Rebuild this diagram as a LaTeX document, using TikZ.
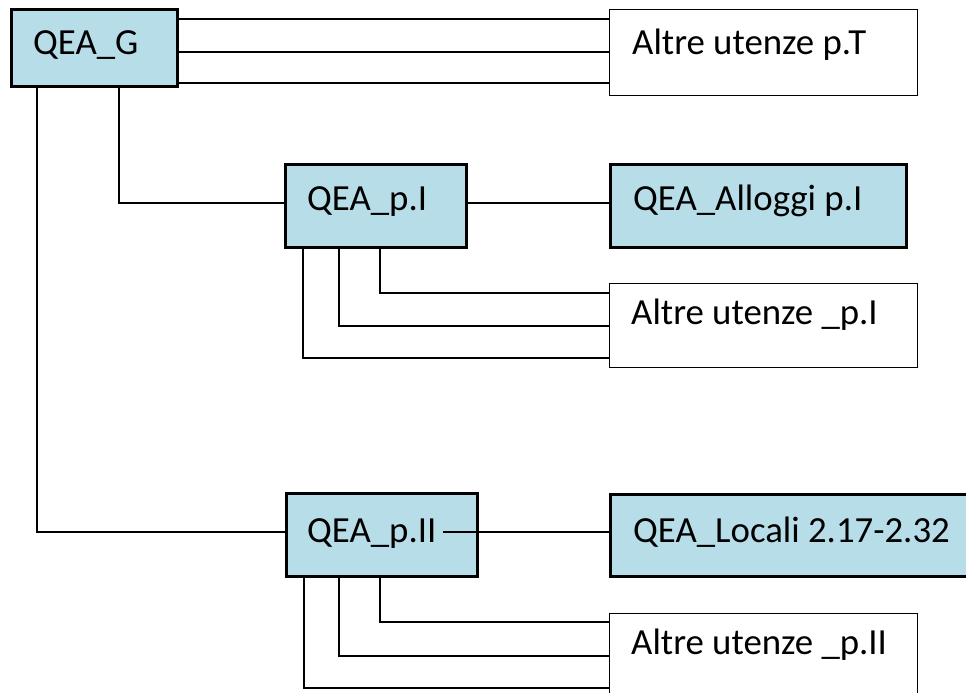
\documentclass[tikz,border=0pt]{standalone}
\usepackage{fontspec}
\setmainfont{Carlito}
\definecolor{qeablue}{HTML}{B7DDE8}

\begin{document}
\begin{tikzpicture}[x=1bp,y=-1bp,
    qea/.style={draw,rectangle,line width=3bp,fill=qeablue,anchor=north west,inner sep=0pt,outer sep=0pt},
    utenze/.style={draw,rectangle,line width=1.3bp,fill=white,anchor=north west,inner sep=0pt,outer sep=0pt},
    testo/.style={anchor=base west,inner sep=0pt,font=\fontsize{36.8bp}{44bp}\selectfont},
    filo/.style={line width=1.5bp}]

  \useasboundingbox (0,0) rectangle (966,693);
  \clip (0,0) rectangle (966,693);

  %%%%%%%%%% QUADRO GENERALE %%%%%%%%%%
  \node[qea,minimum width=166bp,minimum height=77bp] (g) at (11.5,9.5) {};
  \node[utenze,minimum width=308bp,minimum height=86bp] (t) at (609.6,9.6) {};

  \node[testo] (gt) at (33,55) {QEA\_G};
  \node[testo] (tt) at (632,55) {Altre utenze p.T};

  %%%%%%%%%% PIANO I %%%%%%%%%%
  \node[qea,minimum width=181bp,minimum height=83bp] (p1) at (285.5,164.5) {};
  \node[qea,minimum width=296bp,minimum height=83bp] (a1) at (610.5,164.5) {};
  \node[utenze,minimum width=308bp,minimum height=84bp] (u1) at (609.6,283.6) {};

  \node[testo] (p1t) at (307,210) {QEA\_p.I};
  \node[testo] (a1t) at (633,210) {QEA\_Alloggi p.I};
  \node[testo] (u1t) at (631,324) {Altre utenze \_p.I};

  %%%%%%%%%% PIANO II %%%%%%%%%%
  \node[qea,minimum width=191bp,minimum height=83bp] (p2) at (286.5,493.5) {};
  \node[qea,minimum width=400bp,minimum height=82bp] (loc) at (610.5,494.5) {};
  \node[utenze,minimum width=308bp,minimum height=100bp] (u2) at (609.6,613.6) {};

  \node[testo] (p2t) at (307,542) {QEA\_p.II};
  \node[testo] (loct) at (633,542) {QEA\_Locali 2.17-2.32};
  \node[testo] (u2t) at (631,654) {Altre utenze \_p.II};

  \coordinate (p2out) at (443,532);

  % collegamenti
  \draw[filo] (g.east |- 0,19) -- (t.west |- 0,19);
  \draw[filo] (g.east |- 0,52) -- (t.west |- 0,52);
  \draw[filo] (g.east |- 0,83) -- (t.west |- 0,83);

  \draw[filo] (g.south -| 119,0) |- (p1.west |- 0,203);
  \draw[filo] (g.south -| 37,0) |- (p2.west |- 0,532);

  \draw[filo] (p1.east |- 0,203) -- (a1.west |- 0,203);
  \draw[filo] (p1.south -| 380,0) |- (u1.west |- 0,293);
  \draw[filo] (p1.south -| 339,0) |- (u1.west |- 0,326);
  \draw[filo] (p1.south -| 303,0) |- (u1.west |- 0,358);

  \draw[filo] (p2out) -- (loc.west |- p2out);
  \draw[filo] (p2.south -| 380,0) |- (u2.west |- 0,622);
  \draw[filo] (p2.south -| 339,0) |- (u2.west |- 0,656);
  \draw[filo] (p2.south -| 304,0) |- (u2.west |- 0,688);

\end{tikzpicture}
\end{document}
